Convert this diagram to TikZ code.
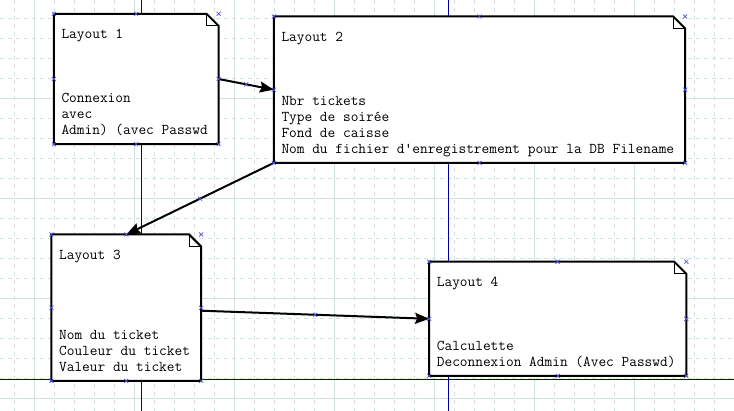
\documentclass[tikz,border=0pt]{standalone}
\usepackage{fontspec}
\usetikzlibrary{arrows.meta,calc}
\definecolor{gridcol}{RGB}{208,226,224}
\definecolor{guidecol}{RGB}{0,0,160}
\definecolor{handlecol}{RGB}{80,80,230}
\begin{document}
\begin{tikzpicture}[x=1pt, y=-1pt,
		minor/.style={gridcol, line width=1pt, dash pattern=on 4pt off 4pt},
		major/.style={gridcol, line width=1pt},
		guide/.style={guidecol, line width=1pt},
		layout/.style={rectangle, inner sep=0pt},
		note/.style={line width=2pt, fill=white, line join=miter},
		fold/.style={line width=1pt},
		memo/.style={anchor=base west, inner sep=0pt, font=\ttfamily\fontsize{14.95}{16}\selectfont},
		link/.style={line width=2pt, -{Stealth[length=14pt, width=11pt, inset=2pt]}},
		handle/.pic={\draw[handlecol, line width=0.7pt] (-2pt,-2pt) -- (2pt,2pt) (-2pt,2pt) -- (2pt,-2pt);}]
	\useasboundingbox (0,0) rectangle (734,411);
	\fill[white] (0,0) rectangle (734,411);
	% grille
	\foreach \gx in {14.3,34.3,...,734} \draw[minor] (\gx,0) -- (\gx,411);
	\foreach \gy in {18.3,38.3,...,411} \draw[minor] (0,\gy) -- (734,\gy);
	\foreach \gx in {34.3,134.3,...,734} \draw[major] (\gx,0) -- (\gx,411);
	\foreach \gy in {98.3,198.3,298.3,398.3} \draw[major] (0,\gy) -- (734,\gy);
	\draw[guide] (141.7,0) -- (141.7,411);
	\draw[guide] (448.3,0) -- (448.3,411);
	\draw[guide] (0,379.3) -- (734,379.3);
	% layouts
	\node[layout, minimum width=164.3, minimum height=130] (l1) at (136.2,79) {};
	\node[layout, minimum width=411, minimum height=146] (l2) at (479.5,89.7) {};
	\node[layout, minimum width=149.3, minimum height=146] (l3) at (126.3,307.7) {};
	\node[layout, minimum width=256.7, minimum height=113.7] (l4) at (557.7,318.8) {};
	\foreach \n in {l1,l2,l3,l4} {
		\draw[note] (\n.south west) |- ([xshift=-12pt]\n.north east) -- ([yshift=-12pt]\n.north east) -- (\n.south east) -- cycle;
		\draw[fold] ([xshift=-12pt]\n.north east) -- ++(0,-12pt) -- ++(12pt,0);
	}
	% textes
	\foreach \k/\txt in {0/Layout 1, 4/Connexion, 5/avec, 6/{Admin) (avec Passwd}}
		\node[memo] (t1-\k) at ([shift={(7.5,25+16*\k)}]l1.north west) {\txt};
	\foreach \k/\txt in {0/Layout 2, 4/Nbr tickets, 5/Type de soirée, 6/Fond de caisse, 7/{Nom du fichier d'enregistrement pour la DB Filename}}
		\node[memo] (t2-\k) at ([shift={(7.5,25+16*\k)}]l2.north west) {\txt};
	\foreach \k/\txt in {0/Layout 3, 5/Nom du ticket, 6/Couleur du ticket, 7/Valeur du ticket}
		\node[memo] (t3-\k) at ([shift={(7.5,24.6+16*\k)}]l3.north west) {\txt};
	\foreach \k/\txt in {0/Layout 4, 4/Calculette, 5/{Deconnexion Admin (Avec Passwd)}}
		\node[memo] (t4-\k) at ([shift={(7.5,24.7+16*\k)}]l4.north west) {\txt};
	% liens
	\draw[link] (l1.east) -- (l2.west);
	\draw[link] (l2.south west) -- (l3.north);
	\draw[link] ([yshift=-3pt]l3.east) -- (l4.west);
	% poignees
	\foreach \n in {l1,l2,l3,l4}
		\foreach \a in {north west,north,north east,west,east,south west,south,south east}
			\pic at (\n.\a) {handle};
	\pic at ($(l1.east)!.5!(l2.west)$) {handle};
	\pic at ($(l2.south west)!.5!(l3.north)$) {handle};
	\pic at ($([yshift=-3pt]l3.east)!.5!(l4.west)$) {handle};
\end{tikzpicture}
\end{document}
